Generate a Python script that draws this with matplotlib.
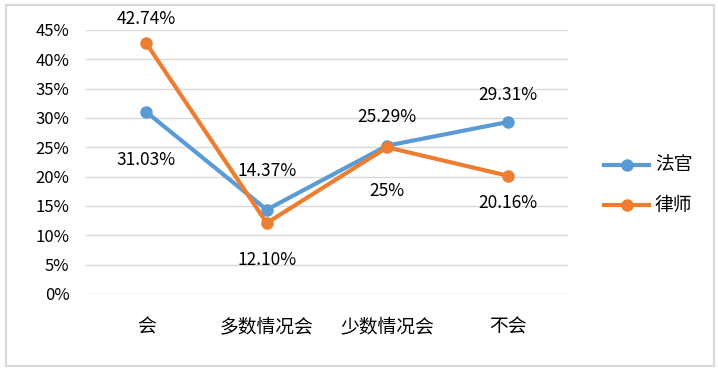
import matplotlib
matplotlib.use("Agg")
import matplotlib.pyplot as plt
from matplotlib.patches import Rectangle
from matplotlib.ticker import FuncFormatter

plt.rcParams['font.family'] = ['Noto Sans CJK SC', 'DejaVu Sans']

categories = ['会', '多数情况会', '少数情况会', '不会']
judges = [31.03, 14.37, 25.29, 29.31]
lawyers = [42.74, 12.10, 25.0, 20.16]
judge_labels = ['31.03%', '14.37%', '25.29%', '29.31%']
lawyer_labels = ['42.74%', '12.10%', '25%', '20.16%']
series_names = ['法官', '律师']

blue = '#5B9BD5'
orange = '#ED7D31'

fig = plt.figure(figsize=(7.18, 3.69), dpi=100)
ax = fig.add_axes([86/718, 1-294/369, (568-86)/718, (294-30)/369])

x = list(range(len(categories)))
ax.plot(x, judges, color=blue, lw=3, marker='o', ms=8, label=series_names[0], zorder=3)
ax.plot(x, lawyers, color=orange, lw=3, marker='o', ms=8, label=series_names[1], zorder=3)

ax.set_xlim(-0.5, 3.5)
ax.set_ylim(0, 45)
ax.set_yticks(range(0, 46, 5))
ax.yaxis.set_major_formatter(FuncFormatter(lambda v, p: f'{int(v)}%'))
ax.set_xticks(x)
ax.set_xticklabels(categories, fontsize=13.5)
ax.grid(axis='y', color='#D9D9D9', lw=1)
ax.set_axisbelow(True)
for s in ax.spines.values():
    s.set_visible(False)
ax.tick_params(length=0, labelsize=12, colors='black')
ax.tick_params(axis='x', labelsize=13.5, pad=16)
ax.tick_params(axis='y', pad=12)

j_off = [(0, -48), (0, 39), (0, 29), (0, 27)]
l_off = [(0, 24), (0, -37), (0, -44), (0, -27)]
for i in x:
    ax.annotate(judge_labels[i], (x[i], judges[i]), xytext=j_off[i], textcoords='offset pixels',
                ha='center', va='center', fontsize=12.5)
    ax.annotate(lawyer_labels[i], (x[i], lawyers[i]), xytext=l_off[i], textcoords='offset pixels',
                ha='center', va='center', fontsize=12.5)

leg = ax.legend(loc='center left', bbox_to_anchor=(1.04, 0.41), frameon=False, fontsize=13.5,
                handlelength=2.4, labelspacing=1.0, handletextpad=0.3)

fig.patches.append(Rectangle((6/718, 3/369), (714-6)/718, (366-5)/369, transform=fig.transFigure,
                             fill=False, edgecolor='#D9D9D9', lw=1.5))
fig.savefig('out.png', dpi=100)
